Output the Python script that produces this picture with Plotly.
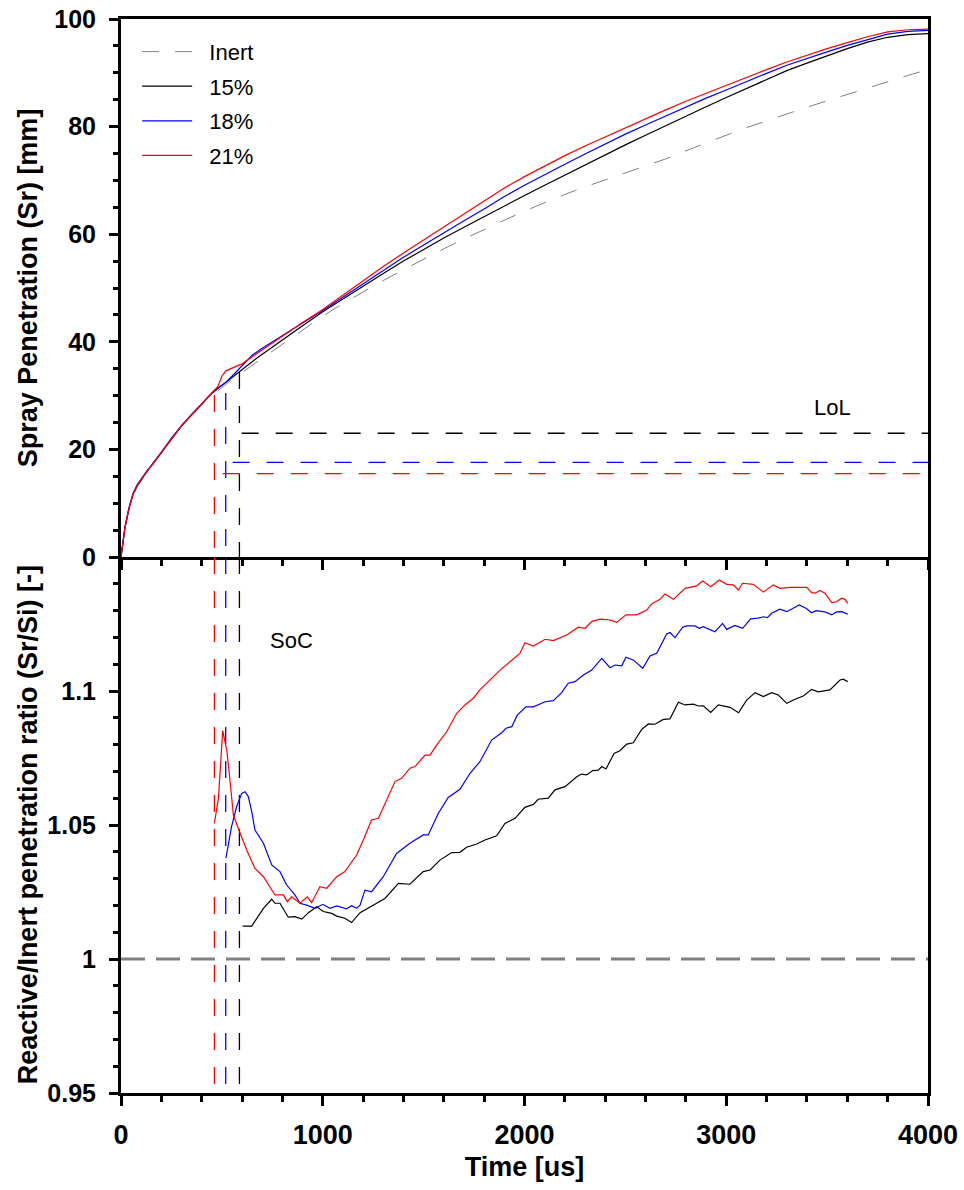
import plotly.graph_objects as go
from plotly.subplots import make_subplots

# ---------------- data ----------------
t_top = [0, 20, 40, 60, 80, 100, 130, 160, 200, 250, 300, 350, 400, 450, 480, 500, 520, 550,
         600, 650, 700, 800, 900, 1000, 1100, 1200, 1300, 1400, 1500, 1600, 1700, 1800, 1900,
         2000, 2100, 2200, 2300, 2400, 2500, 2600, 2700, 2800, 2900, 3000, 3100, 3200, 3300,
         3400, 3500, 3600, 3700, 3800, 3900, 4000]
pen_inert = [0, 5.5, 9.0, 11.5, 13.0, 14.2, 15.8, 17.3, 19.3, 22.0, 24.3, 26.3, 28.3, 30.0, 30.9, 31.5, 32.1, 33.0,
             34.3, 35.6, 36.9, 39.5, 42.2, 44.8, 47.1, 49.3, 51.4, 53.4, 55.4, 57.3, 59.1, 60.9, 62.6,
             64.3, 65.9, 67.4, 68.8, 70.1, 71.4, 72.6, 74.0, 75.5, 77.0, 78.4, 79.8, 81.1, 82.4,
             83.6, 84.8, 86.0, 87.2, 88.4, 89.5, 90.6]
pen_15 = [0, 5.6, 9.1, 11.7, 13.3, 14.4, 16.0, 17.5, 19.4, 22.0, 24.4, 26.5, 28.5, 30.4, 31.3, 31.9, 32.4, 33.3,
          34.8, 36.3, 37.7, 40.4, 43.0, 45.6, 48.0, 50.4, 52.7, 55.0, 57.2, 59.3, 61.3, 63.3, 65.3,
          67.2, 69.1, 71.0, 72.9, 74.8, 76.6, 78.4, 80.2, 82.0, 83.7, 85.4, 87.1, 88.8, 90.4,
          91.8, 93.2, 94.5, 95.7, 96.6, 97.1, 97.3]
pen_18 = [0, 5.6, 9.2, 11.8, 13.4, 14.5, 16.1, 17.4, 19.5, 22.1, 24.4, 26.5, 28.6, 30.5, 31.4, 32.0, 32.5, 33.6,
          35.6, 37.5, 38.8, 41.2, 43.5, 45.8, 48.3, 50.8, 53.3, 55.7, 58.0, 60.3, 62.5, 64.7, 67.0,
          69.1, 71.1, 73.0, 74.9, 76.8, 78.6, 80.3, 82.0, 83.7, 85.3, 86.8, 88.4, 89.9, 91.4,
          92.7, 93.9, 95.1, 96.2, 97.2, 97.7, 97.9]
pen_21 = [0, 5.5, 9.1, 11.7, 13.3, 14.4, 16.0, 17.4, 19.4, 22.0, 24.4, 26.4, 28.5, 30.6, 31.7, 33.6, 34.6, 35.1,
          35.9, 37.2, 38.5, 41.0, 43.6, 46.0, 48.7, 51.4, 54.0, 56.5, 58.9, 61.4, 63.8, 66.2, 68.6,
          70.7, 72.7, 74.6, 76.4, 78.1, 79.8, 81.5, 83.1, 84.7, 86.2, 87.7, 89.2, 90.6, 92.0,
          93.3, 94.5, 95.6, 96.7, 97.6, 98.0, 98.1]

t_r21 = [463, 483, 504, 524, 540, 557, 590, 623, 664, 706, 763, 805, 824, 846, 887, 924, 945, 986, 1020,
         1069, 1110, 1152, 1168, 1201, 1242, 1276, 1308, 1358, 1391, 1432, 1457, 1507, 1532, 1565, 1614,
         1664, 1705, 1746, 1779, 1830, 1879, 1930, 1978, 2002, 2044, 2102, 2143, 2209, 2267, 2300, 2333,
         2374, 2424, 2457, 2503, 2556, 2606, 2630, 2672, 2696, 2738, 2796, 2829, 2853, 2883, 2923, 2966,
         3002, 3035, 3060, 3081, 3134, 3184, 3233, 3266, 3316, 3399, 3423, 3440, 3465, 3489, 3523, 3547,
         3572, 3589, 3602]
ratio_21 = [1.0506, 1.0600, 1.0852, 1.0780, 1.0668, 1.0537, 1.0470, 1.0407, 1.0338, 1.0307, 1.0239, 1.0239,
            1.0214, 1.0232, 1.0208, 1.0232, 1.0210, 1.0270, 1.0264, 1.0307, 1.0326, 1.0369, 1.0388, 1.0444,
            1.0519, 1.0525, 1.0581, 1.0662, 1.0674, 1.0712, 1.0718, 1.0761, 1.0761, 1.0799, 1.0848, 1.0917,
            1.0948, 1.0973, 1.1004, 1.1040, 1.1078, 1.1110, 1.1141, 1.1180, 1.1168, 1.1193, 1.1188, 1.1209,
            1.1238, 1.1234, 1.1259, 1.1268, 1.1265, 1.1256, 1.1284, 1.1284, 1.1302, 1.1325, 1.1342, 1.1362,
            1.1342, 1.1383, 1.1389, 1.1392, 1.1410, 1.1389, 1.1414, 1.1398, 1.1396, 1.1377, 1.1402, 1.1398,
            1.1369, 1.1396, 1.1383, 1.1387, 1.1387, 1.1367, 1.1365, 1.1375, 1.1365, 1.1330, 1.1333, 1.1346,
            1.1342, 1.1327]

t_r18 = [520, 535, 548, 573, 598, 615, 631, 648, 664, 706, 747, 788, 821, 862, 887, 920, 962, 1000, 1036,
         1069, 1118, 1143, 1168, 1185, 1209, 1242, 1300, 1366, 1432, 1498, 1523, 1573, 1622, 1680, 1730,
         1779, 1837, 1887, 1908, 1937, 1964, 2007, 2044, 2102, 2143, 2184, 2217, 2250, 2292, 2333, 2383,
         2424, 2449, 2482, 2503, 2539, 2586, 2622, 2655, 2705, 2721, 2746, 2784, 2804, 2845, 2866, 2886,
         2944, 2982, 3002, 3043, 3081, 3121, 3159, 3184, 3204, 3225, 3266, 3300, 3332, 3361, 3395, 3423,
         3445, 3489, 3523, 3547, 3572, 3602]
ratio_18 = [1.0376, 1.0440, 1.0494, 1.0568, 1.0618, 1.0624, 1.0606, 1.0550, 1.0481, 1.0432, 1.0351, 1.0326,
            1.0276, 1.0239, 1.0208, 1.0201, 1.0189, 1.0204, 1.0189, 1.0198, 1.0187, 1.0199, 1.0189, 1.0201,
            1.0257, 1.0251, 1.0307, 1.0394, 1.0432, 1.0463, 1.0463, 1.0544, 1.0603, 1.0633, 1.0693, 1.0736,
            1.0817, 1.0844, 1.0861, 1.0867, 1.0910, 1.0941, 1.0941, 1.0960, 1.0964, 1.0994, 1.1029, 1.1035,
            1.1060, 1.1078, 1.1122, 1.1087, 1.1097, 1.1094, 1.1126, 1.1116, 1.1085, 1.1131, 1.1141, 1.1213,
            1.1218, 1.1199, 1.1238, 1.1243, 1.1243, 1.1234, 1.1240, 1.1221, 1.1252, 1.1230, 1.1245, 1.1234,
            1.1269, 1.1272, 1.1277, 1.1274, 1.1290, 1.1305, 1.1296, 1.1309, 1.1321, 1.1309, 1.1292, 1.1300,
            1.1295, 1.1284, 1.1295, 1.1296, 1.1287]

t_r15 = [603, 648, 706, 747, 763, 788, 829, 862, 896, 929, 970, 1003, 1044, 1069, 1110, 1143, 1185, 1234,
         1308, 1375, 1432, 1498, 1532, 1581, 1639, 1680, 1713, 1763, 1804, 1862, 1903, 1953, 2002, 2044,
         2068, 2118, 2151, 2201, 2259, 2283, 2308, 2338, 2366, 2383, 2404, 2444, 2473, 2507, 2539, 2581,
         2614, 2647, 2688, 2721, 2763, 2796, 2837, 2861, 2886, 2923, 2961, 3019, 3061, 3101, 3143, 3184,
         3225, 3258, 3300, 3341, 3382, 3423, 3456, 3514, 3564, 3580, 3602]
ratio_15 = [1.0123, 1.0123, 1.0189, 1.0223, 1.0208, 1.0208, 1.0156, 1.0158, 1.0149, 1.0173, 1.0195, 1.0177,
            1.0170, 1.0160, 1.0152, 1.0136, 1.0173, 1.0195, 1.0226, 1.0282, 1.0279, 1.0326, 1.0332, 1.0369,
            1.0397, 1.0398, 1.0417, 1.0429, 1.0444, 1.0460, 1.0506, 1.0525, 1.0566, 1.0577, 1.0596, 1.0600,
            1.0631, 1.0643, 1.0680, 1.0690, 1.0687, 1.0703, 1.0705, 1.0718, 1.0709, 1.0767, 1.0777, 1.0802,
            1.0807, 1.0857, 1.0877, 1.0876, 1.0894, 1.0896, 1.0958, 1.0948, 1.0951, 1.0944, 1.0945, 1.0920,
            1.0948, 1.0939, 1.0919, 1.0966, 1.0994, 1.0979, 1.0994, 1.0985, 1.0954, 1.0969, 1.0981, 1.1006,
            1.0997, 1.1004, 1.1041, 1.1044, 1.1035]

# start of combustion (SoC) times and lift-off lengths (LoL)
series_names = ["15%", "18%", "21%"]
series_colors = ["#000000", "#0000ff", "#ff0000"]
soc_time = [587, 519, 463]
soc_top = [34.4, 30.5, 30.1]
lol_value = [23.0, 17.6, 15.5]
lol_start = [598, 553, 504]
t_end = 4000
ratio_ref = 1.0

FONT = "Liberation Sans, Arial, sans-serif"
PAD = "\u00a0\u00a0"

fig = make_subplots(rows=2, cols=1, vertical_spacing=0, row_heights=[538, 536])

# top: penetration
fig.add_trace(go.Scatter(x=t_top, y=pen_inert, mode="lines", name=PAD + "Inert", legendgroup="a",
                         line=dict(color="#808080", width=1, dash="17px,16px")), row=1, col=1)
for nm, col, yy, grp in zip(series_names, series_colors, [pen_15, pen_18, pen_21], ["b", "c", "d"]):
    fig.add_trace(go.Scatter(x=t_top, y=yy, mode="lines", name=PAD + nm, legendgroup=grp,
                             line=dict(color=col, width=1.2)), row=1, col=1)

# SoC vertical and LoL horizontal dashed lines
for col, ts, ytop, lv, ls in zip(series_colors, soc_time, soc_top, lol_value, lol_start):
    fig.add_trace(go.Scatter(x=[ts, ts], y=[ytop, 0], mode="lines", showlegend=False,
                             line=dict(color=col, width=1.3, dash="17px,17px")), row=1, col=1)
    fig.add_trace(go.Scatter(x=[ts, ts], y=[1.15, 0.95], mode="lines", showlegend=False,
                             line=dict(color=col, width=1.3, dash="17px,17px")), row=2, col=1)
    fig.add_trace(go.Scatter(x=[ls, t_end], y=[lv, lv], mode="lines", showlegend=False,
                             line=dict(color=col, width=1.3, dash="17px,17px")), row=1, col=1)

# bottom: ratios
fig.add_trace(go.Scatter(x=[0, t_end], y=[ratio_ref, ratio_ref], mode="lines", showlegend=False,
                         line=dict(color="#808080", width=3, dash="24px,11px")), row=2, col=1)
for col, tt, rr in zip(series_colors, [t_r15, t_r18, t_r21], [ratio_15, ratio_18, ratio_21]):
    fig.add_trace(go.Scatter(x=tt, y=rr, mode="lines", showlegend=False,
                             line=dict(color=col, width=1.2)), row=2, col=1)

axis_common = dict(showline=True, linewidth=3, linecolor="black", mirror=True, showgrid=False,
                   zeroline=False, ticks="outside", tickwidth=3, tickcolor="black", automargin=False)

fig.update_xaxes(**axis_common, range=[0, 4000], tickvals=[0, 1000, 2000, 3000, 4000], ticklen=10,
                 minor=dict(tick0=0, dtick=200, ticks="outside", ticklen=6, tickwidth=3,
                            tickcolor="black", showgrid=False))
fig.update_xaxes(showticklabels=False, row=1, col=1)
fig.update_xaxes(mirror=False,
                 tickfont=dict(family=FONT, size=27, color="black", weight="bold"),
                 ticklabelstandoff=6,
                 title=dict(text="Time [us]", font=dict(family=FONT, size=27, color="black", weight="bold"),
                            standoff=8),
                 row=2, col=1)

fig.update_yaxes(**axis_common, row=1, col=1, range=[0, 100], tickvals=[0, 20, 40, 60, 80, 100], ticklen=9,
                 tickfont=dict(family=FONT, size=25, color="black", weight="bold"), ticklabelstandoff=8,
                 minor=dict(tick0=0, dtick=5, ticks="outside", ticklen=5, tickwidth=3,
                            tickcolor="black", showgrid=False))
fig.update_yaxes(**axis_common, row=2, col=1, range=[0.95, 1.15], tickvals=[0.95, 1.0, 1.05, 1.1],
                 ticktext=["0.95", "1", "1.05", "1.1"], ticklen=9,
                 tickfont=dict(family=FONT, size=25, color="black", weight="bold"), ticklabelstandoff=8,
                 minor=dict(tick0=0.95, dtick=0.01, ticks="outside", ticklen=5, tickwidth=3,
                            tickcolor="black", showgrid=False))

fig.add_annotation(text="Spray Penetration (Sr) [mm]", xref="paper", yref="y domain", x=-0.115, y=0.5,
                   xanchor="center", yanchor="middle", textangle=-90, showarrow=False,
                   font=dict(family=FONT, size=27, color="black", weight="bold"))
fig.add_annotation(text="Reactive/Inert penetration ratio (Sr/Si) [-]", xref="paper", yref="y2 domain",
                   x=-0.115, y=0.5, xanchor="center", yanchor="middle", textangle=-90, showarrow=False,
                   font=dict(family=FONT, size=27, color="black", weight="bold"))
fig.add_annotation(text="LoL", x=3529, y=27.7, xref="x", yref="y", showarrow=False,
                   font=dict(family=FONT, size=22, color="black"))
fig.add_annotation(text="SoC", x=843, y=1.119, xref="x2", yref="y2", showarrow=False,
                   font=dict(family=FONT, size=22, color="black"))

fig.update_layout(
    width=964, height=1190,
    margin=dict(l=121, r=36, t=19, b=97),
    paper_bgcolor="white", plot_bgcolor="white",
    showlegend=True,
    legend=dict(x=0.02, y=0.989, xanchor="left", yanchor="top", bgcolor="rgba(0,0,0,0)",
                font=dict(family=FONT, size=22, color="black"), itemwidth=50, tracegroupgap=3,
                borderwidth=0),
)

fig.write_html("out.html")
